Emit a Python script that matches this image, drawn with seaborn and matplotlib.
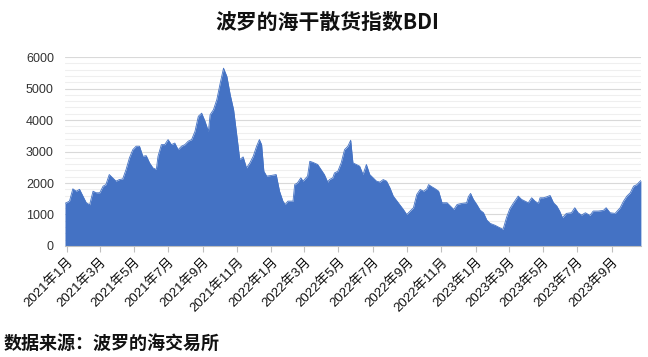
import matplotlib
matplotlib.use("Agg")
import matplotlib.pyplot as plt
import matplotlib.dates as mdates
import seaborn as sns
import pandas as pd
import numpy as np

title = "波罗的海干散货指数BDI"
source = "数据来源：波罗的海交易所"

dates = [
    "2020-12-29", "2021-01-06", "2021-01-12", "2021-01-18", "2021-01-24", "2021-01-30",
    "2021-02-05", "2021-02-11", "2021-02-17", "2021-02-23", "2021-03-01", "2021-03-07",
    "2021-03-12", "2021-03-18", "2021-03-24", "2021-03-30", "2021-04-05", "2021-04-11",
    "2021-04-17", "2021-04-23", "2021-04-29", "2021-05-05", "2021-05-11", "2021-05-17",
    "2021-05-23", "2021-05-29", "2021-06-04", "2021-06-10", "2021-06-13", "2021-06-19",
    "2021-06-25", "2021-07-01", "2021-07-07", "2021-07-13", "2021-07-19", "2021-07-25",
    "2021-07-31", "2021-08-06", "2021-08-12", "2021-08-18", "2021-08-24", "2021-08-30",
    "2021-09-05", "2021-09-11", "2021-09-14", "2021-09-20", "2021-09-26", "2021-10-02",
    "2021-10-08", "2021-10-14", "2021-10-20", "2021-10-26", "2021-11-01", "2021-11-06",
    "2021-11-12", "2021-11-18", "2021-11-24", "2021-11-30", "2021-12-06", "2021-12-11",
    "2021-12-15", "2021-12-19", "2021-12-24", "2022-01-01", "2022-01-10", "2022-01-16",
    "2022-01-22", "2022-01-26", "2022-01-31", "2022-02-09", "2022-02-12", "2022-02-17",
    "2022-02-23", "2022-02-27", "2022-03-07", "2022-03-11", "2022-03-16", "2022-03-25",
    "2022-03-31", "2022-04-06", "2022-04-12", "2022-04-15", "2022-04-21", "2022-04-24",
    "2022-04-30", "2022-05-06", "2022-05-12", "2022-05-18", "2022-05-23", "2022-05-27",
    "2022-06-02", "2022-06-08", "2022-06-14", "2022-06-20", "2022-06-26", "2022-07-02",
    "2022-07-08", "2022-07-14", "2022-07-20", "2022-07-26", "2022-08-01", "2022-08-07",
    "2022-08-16", "2022-08-25", "2022-08-31", "2022-09-06", "2022-09-12", "2022-09-18",
    "2022-09-24", "2022-09-30", "2022-10-06", "2022-10-09", "2022-10-15", "2022-10-21",
    "2022-10-27", "2022-11-02", "2022-11-11", "2022-11-17", "2022-11-23", "2022-11-29",
    "2022-12-07", "2022-12-16", "2022-12-19", "2022-12-23", "2022-12-28", "2023-01-03",
    "2023-01-09", "2023-01-15", "2023-01-21", "2023-01-27", "2023-02-05", "2023-02-13",
    "2023-02-19", "2023-02-25", "2023-03-03", "2023-03-09", "2023-03-18", "2023-03-24",
    "2023-03-30", "2023-04-05", "2023-04-11", "2023-04-17", "2023-04-23", "2023-04-26",
    "2023-05-02", "2023-05-08", "2023-05-14", "2023-05-20", "2023-05-26", "2023-05-31",
    "2023-06-05", "2023-06-12", "2023-06-21", "2023-06-27", "2023-07-03", "2023-07-09",
    "2023-07-16", "2023-07-24", "2023-07-30", "2023-08-08", "2023-08-17", "2023-08-22",
    "2023-08-29", "2023-09-07", "2023-09-16", "2023-09-22", "2023-09-28", "2023-10-04",
    "2023-10-10", "2023-10-16", "2023-10-20", "2023-10-23",
]
bdi = [
    1352, 1425, 1816, 1740, 1800, 1585,
    1373, 1310, 1740, 1690, 1690, 1900,
    1950, 2270, 2165, 2060, 2110, 2130,
    2430, 2800, 3060, 3170, 3170, 2850,
    2870, 2640, 2480, 2430, 2850, 3220,
    3220, 3380, 3220, 3270, 3060, 3170,
    3220, 3330, 3380, 3640, 4120, 4220,
    3960, 3640, 4170, 4330, 4650, 5170,
    5650, 5385, 4800, 4330, 3480, 2745,
    2830, 2480, 2640, 2850, 3170, 3380,
    3220, 2375, 2220, 2240, 2270, 1740,
    1425, 1320, 1425, 1425, 1950, 2005,
    2165, 2060, 2220, 2690, 2660, 2590,
    2430, 2270, 2030, 2110, 2165, 2320,
    2375, 2640, 3060, 3170, 3360, 2640,
    2590, 2535, 2270, 2590, 2270, 2165,
    2060, 2030, 2110, 2060, 1850, 1585,
    1373, 1160, 1000, 1110, 1215, 1640,
    1795, 1740, 1816, 1950, 1880, 1816,
    1740, 1373, 1373, 1267, 1160, 1320,
    1352, 1373, 1563, 1670, 1480, 1320,
    1140, 1056, 824, 718, 655, 580,
    528, 898, 1183, 1352, 1585, 1480,
    1425, 1373, 1531, 1425, 1352, 1531,
    1531, 1563, 1605, 1373, 1267, 1110,
    898, 1035, 1056, 1215, 1056, 982,
    1056, 971, 1110, 1110, 1130, 1215,
    1056, 1035, 1215, 1425, 1585, 1690,
    1900, 1950, 2030, 2080,
]
tick_dates = pd.date_range("2021-01-01", "2023-09-01", freq="2MS")
tick_labels = [f"{d.year}年{d.month}月" for d in tick_dates]
yticks = [0, 1000, 2000, 3000, 4000, 5000, 6000]

df = pd.DataFrame({"date": pd.to_datetime(dates), "bdi": bdi})

sns.set_theme(style="white")
plt.rcParams["font.family"] = ["Noto Sans CJK SC", "DejaVu Sans"]

fig = plt.figure(figsize=(6.48, 3.57), dpi=100)
ax = fig.add_axes([0.1003, 0.311, 0.8887, 0.529])

blue = "#4472C4"
sns.lineplot(data=df, x="date", y="bdi", ax=ax, color=blue, linewidth=0.6)
ax.fill_between(df["date"], 0, df["bdi"], color=blue, linewidth=0)

ax.set_xlim(df["date"].iloc[0], df["date"].iloc[-1])
ax.set_ylim(0, 6000)
ax.set_yticks(yticks)
ax.set_yticklabels([str(v) for v in yticks], fontsize=9, color="#333333",
                   family=["Liberation Sans", "DejaVu Sans"])
ax.set_yticks(np.arange(0, 6001, 200), minor=True)
ax.grid(axis="y", which="major", color="#d9d9d9", linewidth=0.8)
ax.grid(axis="y", which="minor", color="#efefef", linewidth=0.8)
ax.set_axisbelow(True)

ax.set_xticks(tick_dates)
ax.set_xticklabels(tick_labels, rotation=45, ha="right", rotation_mode="anchor",
                   fontsize=9.5, color="#111111",
                   family=["Liberation Sans", "Noto Sans CJK SC"])
ax.tick_params(axis="x", which="major", length=4, color="#bfbfbf", width=0.8,
               bottom=True, pad=3)
ax.tick_params(axis="y", which="both", length=0, pad=8)
ax.set_xlabel("")
ax.set_ylabel("")
for s in ["top", "right", "left"]:
    ax.spines[s].set_visible(False)
ax.spines["bottom"].set_color("#bfbfbf")
ax.spines["bottom"].set_linewidth(0.8)

fig.text(0.505, 0.937, title, ha="center", va="center", fontsize=15,
         fontweight="bold", color="#111111")
fig.text(0.005, 0.035, source, ha="left", va="center", fontsize=13,
         fontweight="bold", color="#111111")

fig.savefig("out.png", dpi=100)
